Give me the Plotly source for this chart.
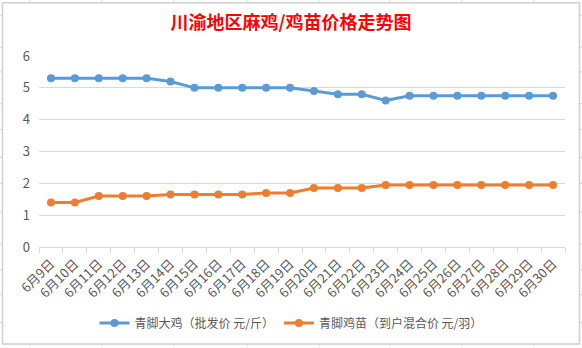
import plotly.graph_objects as go

dates = ["6月9日", "6月10日", "6月11日", "6月12日", "6月13日", "6月14日", "6月15日", "6月16日",
         "6月17日", "6月18日", "6月19日", "6月20日", "6月21日", "6月22日", "6月23日", "6月24日",
         "6月25日", "6月26日", "6月27日", "6月28日", "6月29日", "6月30日"]
big_chicken = [5.3, 5.3, 5.3, 5.3, 5.3, 5.2, 5.0, 5.0, 5.0, 5.0, 5.0, 4.9, 4.8, 4.8, 4.6,
               4.75, 4.75, 4.75, 4.75, 4.75, 4.75, 4.75]
chick = [1.4, 1.4, 1.6, 1.6, 1.6, 1.65, 1.65, 1.65, 1.65, 1.7, 1.7, 1.85, 1.85, 1.85, 1.95,
         1.95, 1.95, 1.95, 1.95, 1.95, 1.95, 1.95]
series_names = ["青脚大鸡（批发价 元/斤）", "青脚鸡苗（到户混合价 元/羽）"]
title_text = "川渝地区麻鸡/鸡苗价格走势图"

W, H = 582, 348
L, R, T, B = 39, 565, 56, 248
FONT = "Noto Sans CJK SC"
GRAY = "#595959"


def px(x):
    return (x - L) / (R - L)


def py(y):
    return (B - y) / (B - T)


fig = go.Figure()
fig.add_trace(go.Scatter(x=dates, y=big_chicken, name=series_names[0], mode="lines+markers",
                         line=dict(color="#5b9bd5", width=3),
                         marker=dict(color="#5b9bd5", size=8)))
fig.add_trace(go.Scatter(x=dates, y=chick, name=series_names[1], mode="lines+markers",
                         line=dict(color="#ed7d31", width=3),
                         marker=dict(color="#ed7d31", size=8)))

shapes = []
# spreadsheet background grid
for cx in [30, 102, 174, 247, 319, 390, 462, 534]:
    shapes.append(dict(type="line", xref="paper", yref="paper", x0=px(cx), x1=px(cx),
                       y0=py(0), y1=py(H), line=dict(color="#d4d4d4", width=1), layer="below"))
for ry in [15, 47, 72, 104, 130, 158, 184, 213, 245, 271, 296, 324]:
    shapes.append(dict(type="line", xref="paper", yref="paper", x0=px(0), x1=px(W),
                       y0=py(ry), y1=py(ry), line=dict(color="#d4d4d4", width=1), layer="below"))
# chart box
shapes.append(dict(type="rect", xref="paper", yref="paper", x0=px(2.5), x1=px(579.5),
                   y0=py(345.5), y1=py(2.5), fillcolor="white",
                   line=dict(color="#d0d0d0", width=1.5), layer="below"))

fig.update_layout(
    width=W, height=H,
    margin=dict(l=L, r=W - R, t=T, b=H - B),
    paper_bgcolor="white", plot_bgcolor="rgba(0,0,0,0)",
    font=dict(family=FONT, color=GRAY, size=12),
    title=dict(text=title_text, x=0.5, xref="container", xanchor="center",
               y=1 - 23 / H, yref="container", yanchor="middle",
               font=dict(family=FONT, size=18, color="#ff0000", weight="bold")),
    showlegend=True,
    legend=dict(orientation="h", x=px(291), xanchor="center", y=py(323), yanchor="middle",
                font=dict(family=FONT, size=12, color=GRAY), bgcolor="rgba(0,0,0,0)",
                itemwidth=30, tracegroupgap=0),
    shapes=shapes,
)
fig.update_xaxes(type="category", range=[-0.5, len(dates) - 0.5], showline=True,
                 linecolor="#d9d9d9", linewidth=1, ticks="outside", tickson="boundaries",
                 ticklen=5, tickcolor="#d9d9d9", showgrid=False, tickangle=-45,
                 ticklabelstandoff=3,
                 tickfont=dict(family=FONT, size=13, color=GRAY))
fig.update_yaxes(range=[0, 6], dtick=1, showgrid=True, gridcolor="#d9d9d9", gridwidth=1,
                 zeroline=False, showline=False, ticks="", ticklabelstandoff=8,
                 tickfont=dict(family=FONT, size=13, color=GRAY))

fig.write_html("out.html")
